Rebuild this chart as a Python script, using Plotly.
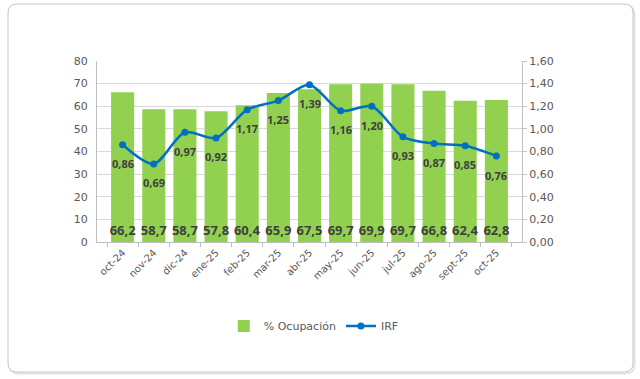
import plotly.graph_objects as go

months = ["oct-24", "nov-24", "dic-24", "ene-25", "feb-25", "mar-25", "abr-25",
          "may-25", "jun-25", "jul-25", "ago-25", "sept-25", "oct-25"]
ocupacion = [66.2, 58.7, 58.7, 57.8, 60.4, 65.9, 67.5, 69.7, 69.9, 69.7, 66.8, 62.4, 62.8]
irf = [0.86, 0.69, 0.97, 0.92, 1.17, 1.25, 1.39, 1.16, 1.20, 0.93, 0.87, 0.85, 0.76]

GREEN = "#92D050"
BLUE = "#0070C0"
TXT = "#404040"
AX = "#595959"

fig = go.Figure()
fig.add_trace(go.Bar(
    x=months, y=ocupacion, name="% Ocupación",
    marker=dict(color=GREEN, line=dict(width=0)),
    texttemplate="%{y:.1f}", textposition="inside", insidetextanchor="start",
    textangle=0, constraintext="none", cliponaxis=False,
    textfont=dict(family="Noto Sans", size=13, color=TXT, weight="bold"),
    yaxis="y",
))
fig.add_trace(go.Scatter(
    x=months, y=irf, name="IRF", yaxis="y2",
    mode="lines+markers",
    line=dict(color=BLUE, width=2.5, shape="spline", smoothing=0.8),
    marker=dict(color=BLUE, size=7),
))
for m, v in zip(months, irf):
    fig.add_annotation(x=m, y=v, yref="y2", xref="x", text=f"{v:.2f}".replace(".", ","),
                       showarrow=False, yshift=-19,
                       font=dict(family="Noto Sans", size=11, color=TXT, weight="bold"))

# rounded frame around chart area (paper coords relative to plot area)
L, R, T, B = 97, 522, 61, 242
W, H = R - L, B - T
def px(x): return (x - L) / W
def py(y): return (B - y) / H
x0, x1, y0, y1 = 8, 633, 4, 372
r = 9
def frame(dx, dy):
    a0, a1, b0, b1 = x0 + dx, x1 + dx, y0 + dy, y1 + dy
    return (f"M {px(a0+r)},{py(b0)} L {px(a1-r)},{py(b0)} Q {px(a1)},{py(b0)} {px(a1)},{py(b0+r)} "
            f"L {px(a1)},{py(b1-r)} Q {px(a1)},{py(b1)} {px(a1-r)},{py(b1)} "
            f"L {px(a0+r)},{py(b1)} Q {px(a0)},{py(b1)} {px(a0)},{py(b1-r)} "
            f"L {px(a0)},{py(b0+r)} Q {px(a0)},{py(b0)} {px(a0+r)},{py(b0)} Z")
fig.add_shape(type="path", path=frame(1.5, 1.5), xref="paper", yref="paper",
              line=dict(color="#E3E3E3", width=2), layer="below")
fig.add_shape(type="path", path=frame(0, 0), xref="paper", yref="paper",
              line=dict(color="#C4C4C4", width=1), fillcolor="white", layer="below")

fig.update_layout(
    width=640, height=379,
    margin=dict(l=L, r=640 - R, t=T, b=379 - B, autoexpand=False),
    paper_bgcolor="white", plot_bgcolor="rgba(0,0,0,0)",
    separators=",.",
    bargap=0.26,
    showlegend=True,
    legend=dict(orientation="h", x=0.51, xanchor="center", y=-0.464, yanchor="middle",
                font=dict(family="DejaVu Sans", size=11, color=AX), traceorder="normal"),
    xaxis=dict(
        type="category", tickangle=-45, tickson="boundaries", ticks="outside", ticklen=4,
        tickcolor="#BFBFBF", showline=True, linecolor="#BFBFBF", linewidth=1,
        tickfont=dict(family="DejaVu Sans", size=10, color=AX), showgrid=False,
        automargin=False,
    ),
    yaxis=dict(
        range=[0, 80], dtick=10, showgrid=True, gridcolor="#D9D9D9", gridwidth=1,
        showline=True, linecolor="#BFBFBF", linewidth=1, ticks="", ticklabelstandoff=6,
        tickfont=dict(family="DejaVu Sans", size=11, color=AX), zeroline=False,
        automargin=False,
    ),
    yaxis2=dict(
        range=[0, 1.6], dtick=0.2, tickformat=".2f", overlaying="y", side="right",
        showgrid=False, showline=True, linecolor="#BFBFBF", linewidth=1,
        ticks="outside", ticklen=4, tickcolor="#BFBFBF",
        tickfont=dict(family="DejaVu Sans", size=11, color=AX), zeroline=False,
        automargin=False,
    ),
)

fig.write_html("out.html", config={"displayModeBar": False},
               post_script="document.body.style.margin='0';document.body.style.overflow='hidden';")
